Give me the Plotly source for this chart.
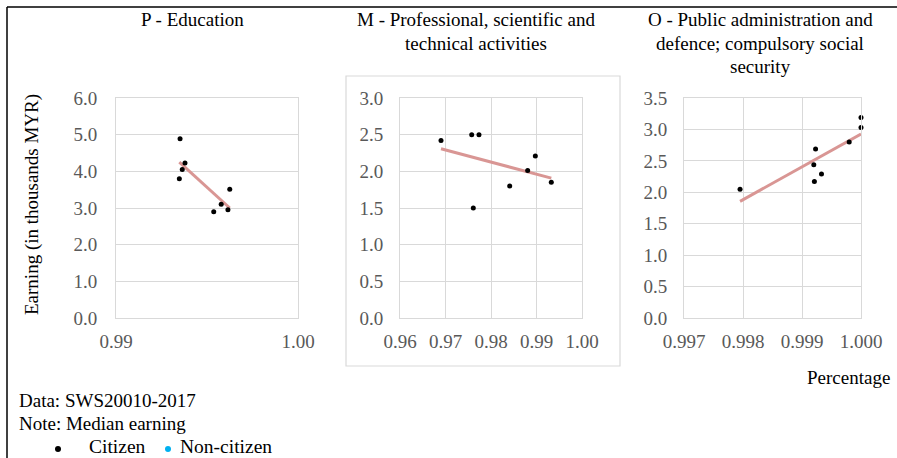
import numpy as np
import plotly.graph_objects as go

W, H = 897, 458

# ---- data ----
p_x = [0.99352, 0.99379, 0.99364, 0.99348, 0.99625, 0.99578, 0.99537, 0.99615]
p_y = [4.89, 4.23, 4.05, 3.80, 3.51, 3.10, 2.90, 2.95]

m_x = [0.96901, 0.97576, 0.97736, 0.97611, 0.98411, 0.98806, 0.98974, 0.99325]
m_y = [2.42, 2.50, 2.50, 1.50, 1.80, 2.01, 2.21, 1.85]

o_x = [0.99795, 0.99923, 0.99920, 0.99933, 0.99921, 0.99980, 1.00000, 1.00000]
o_y = [2.05, 2.69, 2.44, 2.29, 2.17, 2.80, 3.03, 3.19]

panel_titles = [
    ["P - Education"],
    ["M - Professional, scientific and", "technical activities"],
    ["O - Public administration and", "defence; compulsory social", "security"],
]
x_ranges = [[0.99, 1.00], [0.96, 1.00], [0.997, 1.000]]
x_dticks = [0.01, 0.01, 0.001]
x_formats = [".2f", ".2f", ".3f"]
y_ranges = [[0, 6], [0, 3], [0, 3.5]]
y_dticks = [1.0, 0.5, 0.5]

FONT = "Liberation Serif"
TICK = "#595959"
GRID = "#d9d9d9"
TREND = "#d99694"
FS = 19


def fx(p):
    return p / W


def fy(p):
    return 1 - p / H


fig = go.Figure()

series = [(p_x, p_y), (m_x, m_y), (o_x, o_y)]
for i, (xs, ys) in enumerate(series):
    xa = "x" if i == 0 else f"x{i+1}"
    ya = "y" if i == 0 else f"y{i+1}"
    xs_a = np.array(xs)
    ys_a = np.array(ys)
    k, b = np.polyfit(xs_a, ys_a, 1)
    tx = np.array([xs_a.min(), xs_a.max()])
    fig.add_trace(go.Scatter(x=tx, y=k * tx + b, mode="lines",
                             line=dict(color=TREND, width=3),
                             xaxis=xa, yaxis=ya, showlegend=False,
                             cliponaxis=False, hoverinfo="skip"))
    fig.add_trace(go.Scatter(x=xs, y=ys, mode="markers",
                             marker=dict(color="black", size=5),
                             xaxis=xa, yaxis=ya, showlegend=False,
                             cliponaxis=False, name="Citizen"))

x_domains = [[116, 298], [400, 582], [684, 861]]
y_dom = [fy(318), fy(98)]
ystand = [14, 12, 12]
layout = dict(
    width=W, height=H,
    margin=dict(l=0, r=0, t=0, b=0, autoexpand=False),
    paper_bgcolor="white", plot_bgcolor="white",
    font=dict(family=FONT, size=FS, color="black"),
    showlegend=False,
)
for i in range(3):
    xk = "xaxis" if i == 0 else f"xaxis{i+1}"
    yk = "yaxis" if i == 0 else f"yaxis{i+1}"
    layout[xk] = dict(
        domain=[fx(x_domains[i][0]), fx(x_domains[i][1])],
        range=x_ranges[i], dtick=x_dticks[i], tick0=x_ranges[i][0],
        tickformat=x_formats[i], showgrid=(i != 0), gridcolor=GRID,
        showline=True, linecolor=GRID, mirror=True, zeroline=False,
        tickfont=dict(family=FONT, size=FS, color=TICK),
        ticks="outside", ticklen=6, tickcolor="rgba(0,0,0,0)",
        automargin=False,
        anchor="y" if i == 0 else f"y{i+1}",
    )
    layout[yk] = dict(
        domain=y_dom, range=y_ranges[i], dtick=y_dticks[i], tick0=0,
        tickformat=".1f", showgrid=True, gridcolor=GRID,
        showline=True, linecolor=GRID, mirror=True, zeroline=False,
        tickfont=dict(family=FONT, size=FS, color=TICK),
        ticks="outside", ticklen=ystand[i], tickcolor="rgba(0,0,0,0)",
        automargin=False,
        anchor="x" if i == 0 else f"x{i+1}",
    )
fig.update_layout(**layout)

annotations = []
title_centers = [192, 476, 760]
for i, lines in enumerate(panel_titles):
    for j, line in enumerate(lines):
        annotations.append(dict(
            x=fx(title_centers[i]), y=fy(20 + 23 * j), xref="paper", yref="paper",
            text=line, showarrow=False, xanchor="center", yanchor="middle",
            font=dict(family=FONT, size=FS, color="black")))

annotations.append(dict(
    x=fx(32), y=fy(205), xref="paper", yref="paper",
    text="Earning (in thousands MYR)", textangle=-90, showarrow=False,
    xanchor="center", yanchor="middle",
    font=dict(family=FONT, size=FS, color="black")))
annotations.append(dict(
    x=fx(892), y=fy(377), xref="paper", yref="paper", text="Percentage",
    showarrow=False, xanchor="right", yanchor="middle",
    font=dict(family=FONT, size=FS, color="black")))
annotations.append(dict(
    x=fx(17), y=fy(400), xref="paper", yref="paper", text="Data: SWS20010-2017",
    showarrow=False, xanchor="left", yanchor="middle",
    font=dict(family=FONT, size=FS, color="black")))
annotations.append(dict(
    x=fx(17), y=fy(423), xref="paper", yref="paper", text="Note: Median earning",
    showarrow=False, xanchor="left", yanchor="middle",
    font=dict(family=FONT, size=FS, color="black")))
annotations.append(dict(
    x=fx(87), y=fy(446), xref="paper", yref="paper", text="Citizen",
    showarrow=False, xanchor="left", yanchor="middle",
    font=dict(family=FONT, size=19.5, color="black")))
annotations.append(dict(
    x=fx(178), y=fy(446), xref="paper", yref="paper", text="Non-citizen",
    showarrow=False, xanchor="left", yanchor="middle",
    font=dict(family=FONT, size=19.5, color="black")))

shapes = [
    # outer frame (top and left edges visible)
    dict(type="line", xref="paper", yref="paper", x0=fx(7), x1=fx(900), y0=fy(7), y1=fy(7),
         line=dict(color="black", width=1.5)),
    dict(type="line", xref="paper", yref="paper", x0=fx(7), x1=fx(7), y0=fy(7), y1=fy(460),
         line=dict(color="black", width=1.5)),
    # chart-area border around middle panel
    dict(type="rect", xref="paper", yref="paper", x0=fx(346), x1=fx(620), y0=fy(366), y1=fy(76),
         line=dict(color=GRID, width=1.2)),
]
for cx, col in [(58, "black"), (168, "#00b0f0")]:
    shapes.append(dict(type="circle", xref="paper", yref="paper",
                       xsizemode="pixel", ysizemode="pixel",
                       xanchor=fx(cx), yanchor=fy(449),
                       x0=-3, x1=3, y0=-3, y1=3,
                       fillcolor=col, line=dict(color=col, width=0)))

fig.update_layout(annotations=annotations, shapes=shapes)
fig.write_html("out.html")
